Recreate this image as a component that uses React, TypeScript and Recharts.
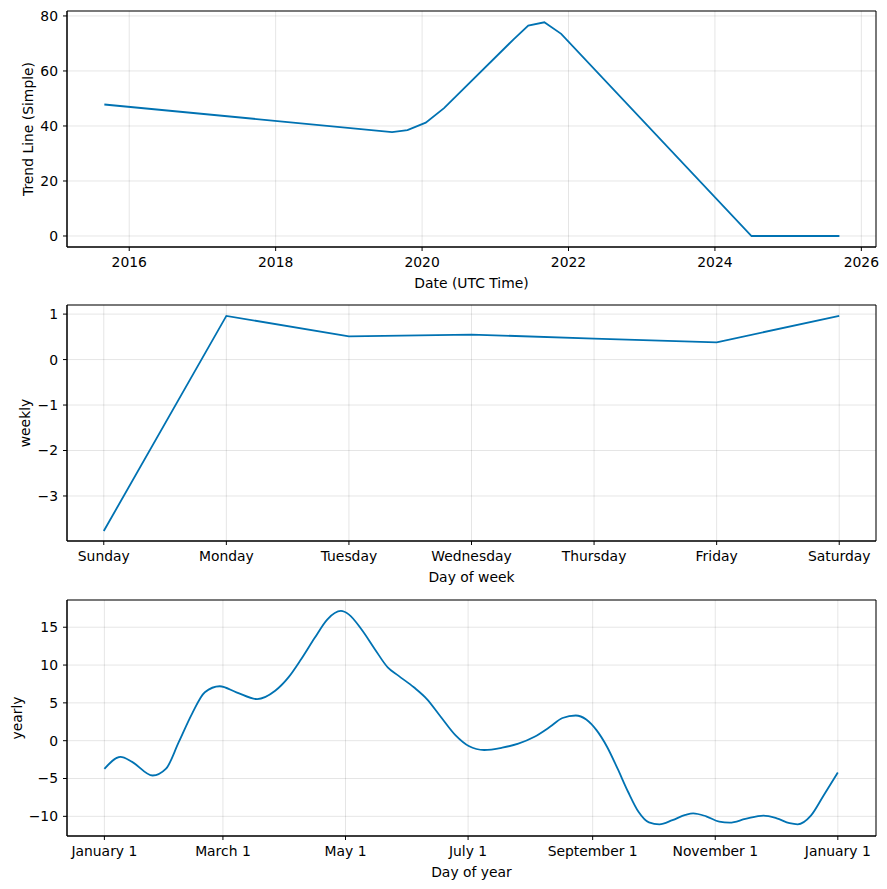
import React from 'react'
import { LineChart, Line, XAxis, YAxis, CartesianGrid, ReferenceArea } from 'recharts'

// trend component (fractional years)
const trendDates = [2015.66, 2019.59, 2019.8, 2020.05, 2020.3, 2021.25, 2021.45, 2021.67, 2021.9, 2024.5, 2025.7]
const trendValues = [47.8, 37.8, 38.5, 41.2, 46.5, 71.5, 76.5, 77.7, 73.5, 0, 0]
const yearTicks = [2016, 2018, 2020, 2022, 2024, 2026]
const trendTicks = [0, 20, 40, 60, 80]

// weekly component
const weekDays = ['Sunday', 'Monday', 'Tuesday', 'Wednesday', 'Thursday', 'Friday', 'Saturday']
const weeklyValues = [-3.77, 0.96, 0.51, 0.55, 0.46, 0.38, 0.96]
const weeklyTicks = [-3, -2, -1, 0, 1]

// yearly component (day of year)
const yearlyDays = [0, 8, 13.8, 24, 30.7, 37, 43.6, 50, 57.4, 65.7, 76, 85, 91.7, 98, 104.7, 111, 117.7, 121.6, 128, 134.6, 141, 146.3, 154, 160.5, 167, 174.8, 181.3, 189, 198, 206, 213.8, 221.6, 228, 234.6, 239.8, 245, 250.2, 255.4, 260.6, 265.8, 271, 276.2, 282.7, 289.2, 293, 299.5, 306, 311.2, 319, 328, 334.6, 341, 345, 351.6, 358, 365]
const yearlyValues = [-3.73, -2.15, -2.8, -4.6, -3.7, -0.2, 3.55, 6.4, 7.2, 6.4, 5.5, 6.6, 8.4, 10.8, 13.6, 16.05, 17.15, 16.7, 14.7, 12.1, 9.7, 8.6, 7.06, 5.5, 3.3, 0.7, -0.7, -1.23, -0.92, -0.4, 0.48, 1.8, 3.0, 3.33, 2.8, 1.36, -0.83, -3.7, -6.75, -9.4, -10.8, -11.05, -10.5, -9.8, -9.6, -10.0, -10.7, -10.83, -10.35, -9.9, -10.26, -10.9, -11.05, -9.9, -7.2, -4.2]
const monthTicks = [0, 59, 120, 181, 243, 304, 365]
const monthLabels = ['January 1', 'March 1', 'May 1', 'July 1', 'September 1', 'November 1', 'January 1']
const yearlyTicks = [-10, -5, 0, 5, 10, 15]

const trendData = trendDates.map((x, i) => ({ x, y: trendValues[i] }))
const weeklyData = weeklyValues.map((y, i) => ({ x: i, y }))
const yearlyData = yearlyDays.map((x, i) => ({ x, y: yearlyValues[i] }))

const FONT = 'DejaVu Sans'
const BLUE = '#0072B2'
const tickStyle = { fill: '#000', fontSize: 13.9, fontFamily: FONT }
const labelStyle = { fill: '#000', fontSize: 13.9, fontFamily: FONT }
const fmtMinus = (v: number) => String(v).replace('-', '\u2212')

interface PanelProps {
  top: number
  data: { x: number; y: number }[]
  curve: 'linear' | 'monotone'
  xDomain: [number, number]
  xTicks: number[]
  xFormat?: (v: number) => string
  xLabel: string
  yDomain: [number, number]
  yTicks: number[]
  yLabel: string
  yLabelX: number
}

const Panel: React.FC<PanelProps> = ({ top, data, curve, xDomain, xTicks, xFormat, xLabel, yDomain, yTicks, yLabel, yLabelX }) => (
  <div style={{ position: 'absolute', left: 0, top }}>
    <LineChart width={887} height={294} data={data} margin={{ top: 11, right: 11, left: 0, bottom: 0 }}>
      <CartesianGrid stroke="#000" strokeOpacity={0.1} strokeWidth={1} />
      <XAxis
        type="number"
        dataKey="x"
        domain={xDomain}
        ticks={xTicks}
        allowDataOverflow
        tickFormatter={xFormat}
        height={47}
        tickSize={4}
        tickMargin={6}
        tick={tickStyle}
        stroke="#000"
        tickLine={{ stroke: '#000' }}
        label={{ value: xLabel, position: 'insideBottom', offset: 6, style: labelStyle }}
      />
      <YAxis
        type="number"
        domain={yDomain}
        ticks={yTicks}
        allowDataOverflow
        tickFormatter={fmtMinus}
        width={67}
        tickSize={4}
        tickMargin={5}
        tick={tickStyle}
        stroke="#000"
        tickLine={{ stroke: '#000' }}
        label={{ value: yLabel, angle: -90, position: 'insideLeft', offset: yLabelX, style: { ...labelStyle, textAnchor: 'middle' } }}
      />
      <ReferenceArea
        x1={xDomain[0]}
        x2={xDomain[1]}
        y1={yDomain[0]}
        y2={yDomain[1]}
        fill="none"
        fillOpacity={0}
        stroke="#000"
        strokeWidth={1}
        ifOverflow="visible"
      />
      <Line type={curve} dataKey="y" stroke={BLUE} strokeWidth={1.8} dot={false} isAnimationActive={false} />
    </LineChart>
  </div>
)

const App: React.FC = () => (
  <div style={{ position: 'absolute', left: 0, top: 0, width: 887, height: 889, background: '#fff' }}>
    <Panel
      top={0}
      data={trendData}
      curve="linear"
      xDomain={[2015.15, 2026.2]}
      xTicks={yearTicks}
      xLabel="Date (UTC Time)"
      yDomain={[-4, 81.8]}
      yTicks={trendTicks}
      yLabel="Trend Line (Simple)"
      yLabelX={28}
    />
    <Panel
      top={294}
      data={weeklyData}
      curve="linear"
      xDomain={[-0.3, 6.3]}
      xTicks={[0, 1, 2, 3, 4, 5, 6]}
      xFormat={(v) => weekDays[v]}
      xLabel="Day of week"
      yDomain={[-3.99, 1.2]}
      yTicks={weeklyTicks}
      yLabel="weekly"
      yLabelX={25}
    />
    <Panel
      top={589}
      data={yearlyData}
      curve="monotone"
      xDomain={[-18.6, 384]}
      xTicks={monthTicks}
      xFormat={(v) => monthLabels[monthTicks.indexOf(v)]}
      xLabel="Day of year"
      yDomain={[-12.6, 18.6]}
      yTicks={yearlyTicks}
      yLabel="yearly"
      yLabelX={17}
    />
  </div>
)

export default App
